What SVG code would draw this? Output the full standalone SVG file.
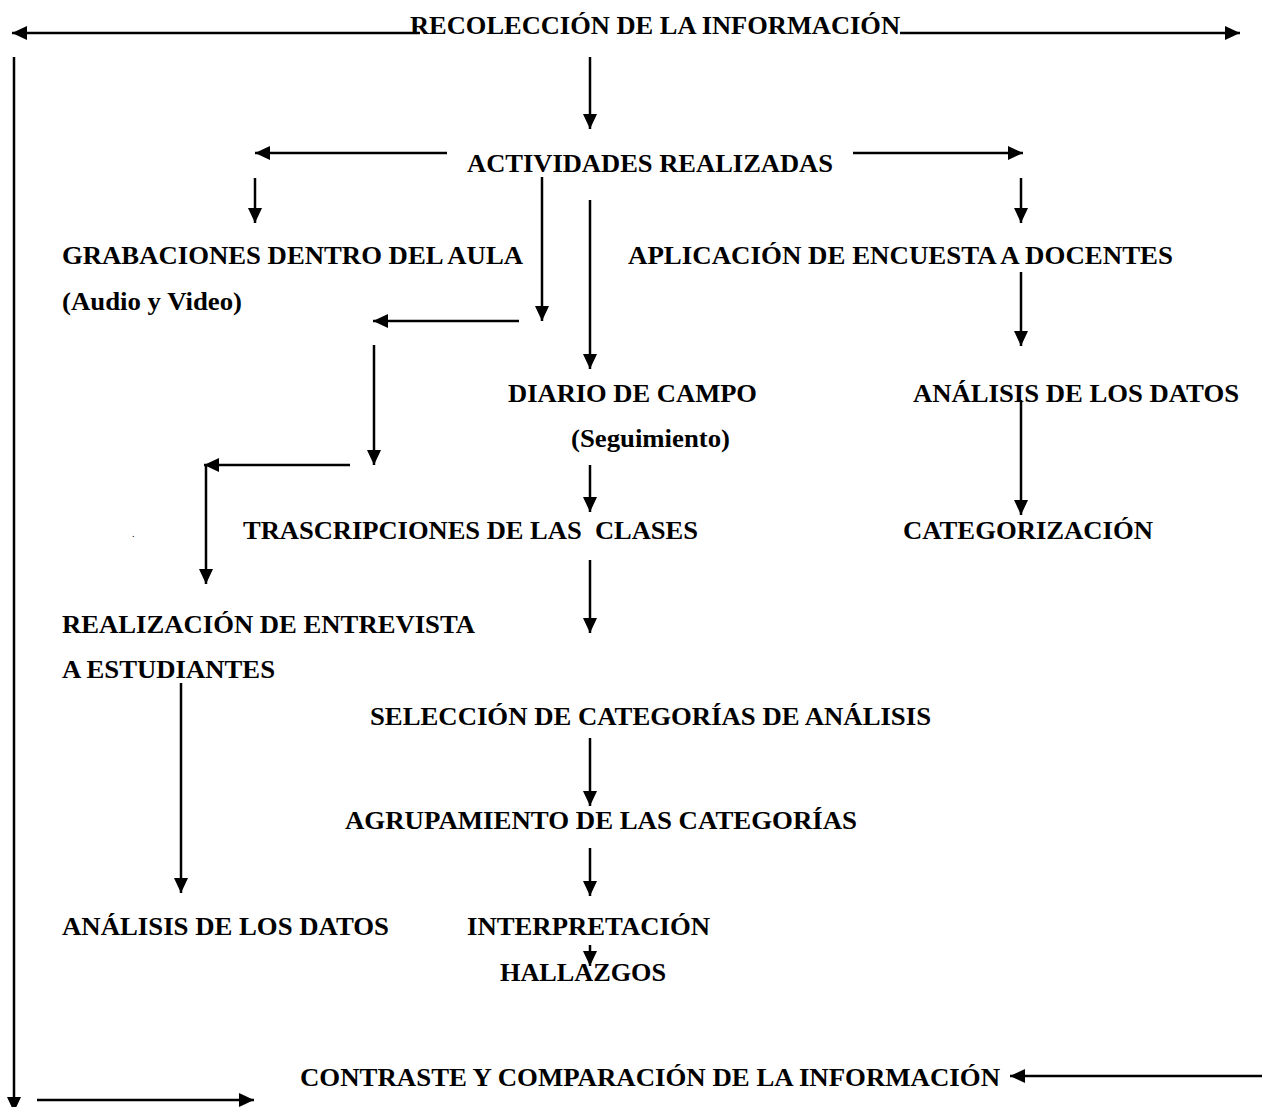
<svg xmlns="http://www.w3.org/2000/svg" width="1278" height="1107" viewBox="0 0 1278 1107">
<defs>
<style>
.t{font-family:"Liberation Serif","Times New Roman",serif;font-weight:bold;font-size:26px;fill:#000}
.c{stroke:#000;stroke-width:2.5;fill:none}
</style>
<marker id="ah" viewBox="0 0 15 14" refX="15" refY="7" markerWidth="15" markerHeight="14" markerUnits="userSpaceOnUse" orient="auto"><path d="M0,0 L15,7 L0,14 z" fill="#000"/></marker>
</defs>
<rect width="1278" height="1107" fill="#fff"/>
<g id="connectors">
<line class="c" x1="420" y1="33" x2="12" y2="33" marker-end="url(#ah)"/>
<line class="c" x1="900" y1="33" x2="1240" y2="33" marker-end="url(#ah)"/>
<line class="c" x1="14" y1="57" x2="14" y2="1112" marker-end="url(#ah)"/>
<line class="c" x1="37" y1="1100" x2="254" y2="1100" marker-end="url(#ah)"/>
<line class="c" x1="590" y1="57" x2="590" y2="129" marker-end="url(#ah)"/>
<line class="c" x1="447" y1="153" x2="255" y2="153" marker-end="url(#ah)"/>
<line class="c" x1="853" y1="153" x2="1023" y2="153" marker-end="url(#ah)"/>
<line class="c" x1="255" y1="178" x2="255" y2="223" marker-end="url(#ah)"/>
<line class="c" x1="1021" y1="178" x2="1021" y2="223" marker-end="url(#ah)"/>
<line class="c" x1="542" y1="177" x2="542" y2="321" marker-end="url(#ah)"/>
<line class="c" x1="590" y1="200" x2="590" y2="369" marker-end="url(#ah)"/>
<line class="c" x1="519" y1="321" x2="373" y2="321" marker-end="url(#ah)"/>
<line class="c" x1="374" y1="345" x2="374" y2="465" marker-end="url(#ah)"/>
<line class="c" x1="350" y1="465" x2="204" y2="465" marker-end="url(#ah)"/>
<line class="c" x1="206" y1="465" x2="206" y2="584" marker-end="url(#ah)"/>
<line class="c" x1="590" y1="465" x2="590" y2="512" marker-end="url(#ah)"/>
<line class="c" x1="590" y1="560" x2="590" y2="633" marker-end="url(#ah)"/>
<line class="c" x1="1021" y1="272" x2="1021" y2="346" marker-end="url(#ah)"/>
<line class="c" x1="1021" y1="400" x2="1021" y2="515" marker-end="url(#ah)"/>
<line class="c" x1="181" y1="683" x2="181" y2="893" marker-end="url(#ah)"/>
<line class="c" x1="590" y1="738" x2="590" y2="806" marker-end="url(#ah)"/>
<line class="c" x1="590" y1="848" x2="590" y2="896" marker-end="url(#ah)"/>
<line class="c" x1="590" y1="945" x2="590" y2="966" marker-end="url(#ah)"/>
<line class="c" x1="1262" y1="1076" x2="1010" y2="1076" marker-end="url(#ah)"/>
</g>
<g id="n-recoleccion"><text class="t" x="410" y="34" textLength="490" lengthAdjust="spacingAndGlyphs">RECOLECCIÓN DE LA INFORMACIÓN</text></g>
<g id="n-actividades"><text class="t" x="467" y="172" textLength="366" lengthAdjust="spacingAndGlyphs">ACTIVIDADES REALIZADAS</text></g>
<g id="n-grabaciones"><text class="t" x="62" y="264" textLength="461" lengthAdjust="spacingAndGlyphs">GRABACIONES DENTRO DEL AULA</text><text class="t" x="62" y="310" textLength="180" lengthAdjust="spacingAndGlyphs">(Audio y Video)</text></g>
<g id="n-aplicacion"><text class="t" x="628" y="264" textLength="545" lengthAdjust="spacingAndGlyphs">APLICACIÓN DE ENCUESTA A DOCENTES</text></g>
<g id="n-diario"><text class="t" x="508" y="402" textLength="249" lengthAdjust="spacingAndGlyphs">DIARIO DE CAMPO</text><text class="t" x="571" y="447" textLength="159" lengthAdjust="spacingAndGlyphs">(Seguimiento)</text></g>
<g id="n-analisis-r"><text class="t" x="913" y="402" textLength="326" lengthAdjust="spacingAndGlyphs">ANÁLISIS DE LOS DATOS</text></g>
<g id="n-trascripciones"><text class="t" x="243" y="539" textLength="455" lengthAdjust="spacingAndGlyphs" xml:space="preserve">TRASCRIPCIONES DE LAS  CLASES</text></g>
<g id="n-categorizacion"><text class="t" x="903" y="539" textLength="250" lengthAdjust="spacingAndGlyphs">CATEGORIZACIÓN</text></g>
<g id="n-dot"><text class="t" x="132" y="537" style="font-size:10px;font-weight:normal">.</text></g>
<g id="n-entrevista"><text class="t" x="62" y="633" textLength="413" lengthAdjust="spacingAndGlyphs">REALIZACIÓN DE ENTREVISTA</text><text class="t" x="62" y="678" textLength="213" lengthAdjust="spacingAndGlyphs">A ESTUDIANTES</text></g>
<g id="n-seleccion"><text class="t" x="370" y="725" textLength="561" lengthAdjust="spacingAndGlyphs">SELECCIÓN DE CATEGORÍAS DE ANÁLISIS</text></g>
<g id="n-agrupamiento"><text class="t" x="345" y="829" textLength="512" lengthAdjust="spacingAndGlyphs">AGRUPAMIENTO DE LAS CATEGORÍAS</text></g>
<g id="n-analisis-l"><text class="t" x="62" y="935" textLength="327" lengthAdjust="spacingAndGlyphs">ANÁLISIS DE LOS DATOS</text></g>
<g id="n-interpretacion"><text class="t" x="467" y="935" textLength="243" lengthAdjust="spacingAndGlyphs">INTERPRETACIÓN</text></g>
<g id="n-hallazgos"><text class="t" x="500" y="981" textLength="166" lengthAdjust="spacingAndGlyphs">HALLAZGOS</text></g>
<g id="n-contraste"><text class="t" x="300" y="1086" textLength="700" lengthAdjust="spacingAndGlyphs">CONTRASTE Y COMPARACIÓN DE LA INFORMACIÓN</text></g>
</svg>
